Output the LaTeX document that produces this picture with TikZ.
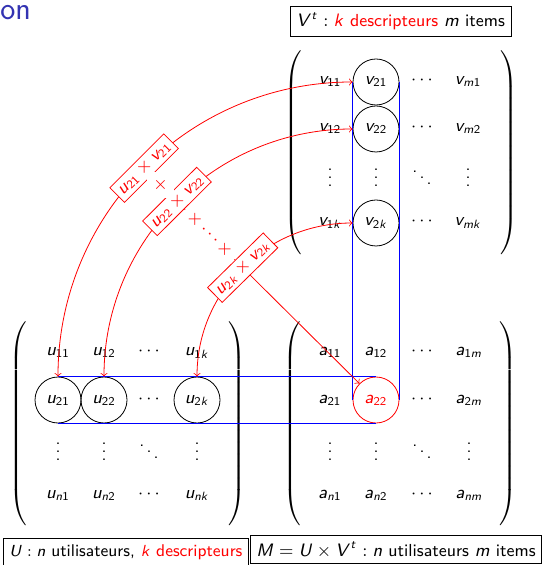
\documentclass[tikz,border=0pt]{standalone}
\usetikzlibrary{arrows}
\DeclareMathAlphabet{\mathsfit}{OT1}{cmss}{m}{sl}
\newcommand\mi[1]{\mathsfit{#1}}
\newcommand\ms[1]{\mathsf{#1}}
\newcommand\dfont{\fontsize{8.7}{10.4}\selectfont\sffamily}
\newcommand\bfont{\fontsize{8.5}{10.2}\selectfont\sffamily}
\newcommand\bigparL{$\delimitershortfall=0pt\delimiterfactor=1000\left(\vcenter{\hrule height 97pt width 0pt}\right.$}
\newcommand\bigparR{$\delimitershortfall=0pt\delimiterfactor=1000\left.\vcenter{\hrule height 97pt width 0pt}\right)$}
\definecolor{titleblue}{rgb}{0.2,0.2,0.7}
\tikzset{
  ent/.style={font=\dfont, text height=5pt, text depth=2pt, inner sep=0pt},
  cir/.style={ent, circle, draw, minimum size=23pt},
  lbl/.style={sloped, draw=red, fill=white, text=red, inner sep=2pt, font=\dfont},
  infobox/.style={draw, font=\dfont, inner sep=3pt, anchor=base west},
  parL/.style={inner sep=0pt, anchor=west},
  parR/.style={inner sep=0pt, anchor=east},
  band/.style={blue},
  link/.style={red},
}
\begin{document}
\begin{tikzpicture}[x=0.5pt,y=-0.5pt]
\useasboundingbox (0,0) rectangle (541,565);
% title fragment
\node[anchor=base west, inner sep=0pt, text=titleblue, font=\fontsize{16}{18}\selectfont\sffamily] (title) at (0,20) {on};
% info boxes
\node[infobox] (vinfo) at (290,27) {$\mi{V}^{\mi{t}} : \textcolor{red}{\mi{k}}$ \textcolor{red}{descripteurs} $\mi{m}$ items};
\node[infobox, font=\bfont] (uinfo) at (3,556) {$\mi{U} : \mi{n}$ utilisateurs, \textcolor{red}{$\mi{k}$ descripteurs}};
\node[infobox] (minfo) at (250,556) {$\mi{M}=\mi{U}\times\mi{V}^{\mi{t}} : \mi{n}$ utilisateurs $\mi{m}$ items};
% V^t matrix
\node[parL] (vl) at (284,152.5) {\bigparL};
\node[parR] (vr) at (518,152.5) {\bigparR};
\node[ent] (v11) at (330,82) {$\mi{v}_{\ms{11}}$};
\node[cir] (v21) at (376,82) {$\mi{v}_{\ms{21}}$};
\node[ent] (vd1) at (422,82) {$\cdots$};
\node[ent] (vm1) at (468,82) {$\mi{v}_{\mi{m}\ms{1}}$};
\node[ent] (v12) at (330,129) {$\mi{v}_{\ms{12}}$};
\node[cir] (v22) at (376,129) {$\mi{v}_{\ms{22}}$};
\node[ent] (vd2) at (422,129) {$\cdots$};
\node[ent] (vm2) at (468,129) {$\mi{v}_{\mi{m}\ms{2}}$};
\node[ent] (vv1) at (330,184) {$\vdots$};
\node[ent] (vv2) at (376,184) {$\vdots$};
\node[ent] (vdd) at (422,184) {$\ddots$};
\node[ent] (vv4) at (468,184) {$\vdots$};
\node[ent] (v1k) at (330,223) {$\mi{v}_{\ms{1}\mi{k}}$};
\node[cir] (v2k) at (376,223) {$\mi{v}_{\ms{2}\mi{k}}$};
\node[ent] (vdk) at (422,223) {$\cdots$};
\node[ent] (vmk) at (468,223) {$\mi{v}_{\mi{m}\mi{k}}$};
% U matrix
\node[parL] (ul) at (9,424) {\bigparL};
\node[parR] (ur) at (246,424) {\bigparR};
\node[ent] (u11) at (58,353) {$\mi{u}_{\ms{11}}$};
\node[ent] (u12) at (104,353) {$\mi{u}_{\ms{12}}$};
\node[ent] (ud1) at (149,353) {$\cdots$};
\node[ent] (u1k) at (197,353) {$\mi{u}_{\ms{1}\mi{k}}$};
\node[cir] (u21) at (58,400) {$\mi{u}_{\ms{21}}$};
\node[cir] (u22) at (104,400) {$\mi{u}_{\ms{22}}$};
\node[ent] (ud2) at (149,400) {$\cdots$};
\node[cir] (u2k) at (197,400) {$\mi{u}_{\ms{2}\mi{k}}$};
\node[ent] (uv1) at (58,457) {$\vdots$};
\node[ent] (uv2) at (104,457) {$\vdots$};
\node[ent] (udd) at (149,457) {$\ddots$};
\node[ent] (uv4) at (197,457) {$\vdots$};
\node[ent] (un1) at (58,495) {$\mi{u}_{\mi{n}\ms{1}}$};
\node[ent] (un2) at (104,495) {$\mi{u}_{\mi{n}\ms{2}}$};
\node[ent] (udn) at (149,495) {$\cdots$};
\node[ent] (unk) at (197,495) {$\mi{u}_{\mi{n}\mi{k}}$};
% M matrix
\node[parL] (ml) at (283,424) {\bigparL};
\node[parR] (mr) at (517,424) {\bigparR};
\node[ent] (a11) at (330,353) {$\mi{a}_{\ms{11}}$};
\node[ent] (a12) at (376,353) {$\mi{a}_{\ms{12}}$};
\node[ent] (ad1) at (422,353) {$\cdots$};
\node[ent] (a1m) at (469,353) {$\mi{a}_{\ms{1}\mi{m}}$};
\node[ent] (a21) at (330,400) {$\mi{a}_{\ms{21}}$};
\node[cir, draw=red, text=red] (a22) at (376,400) {$\mi{a}_{\ms{22}}$};
\node[ent] (ad2) at (422,400) {$\cdots$};
\node[ent] (a2m) at (469,400) {$\mi{a}_{\ms{2}\mi{m}}$};
\node[ent] (av1) at (330,457) {$\vdots$};
\node[ent] (av2) at (376,457) {$\vdots$};
\node[ent] (add) at (422,457) {$\ddots$};
\node[ent] (av4) at (469,457) {$\vdots$};
\node[ent] (an1) at (330,495) {$\mi{a}_{\mi{n}\ms{1}}$};
\node[ent] (an2) at (376,495) {$\mi{a}_{\mi{n}\ms{2}}$};
\node[ent] (adn) at (422,495) {$\cdots$};
\node[ent] (anm) at (469,495) {$\mi{a}_{\mi{n}\mi{m}}$};
% blue bands
\draw[band] (u21.north) -- (a22.north);
\draw[band] (u21.south) -- (a22.south);
\draw[band] (v21.west) -- (a22.west);
\draw[band] (v21.east) -- (a22.east);
% red links
\draw[link,<->] (u21.north) to[out=90,in=180] node[lbl] (b1) {$\mi{u}_{\ms{21}}\times\mi{v}_{\ms{21}}$} (v21.west);
\draw[link,<->] (u22.north) to[out=90,in=180] node[lbl] (b2) {$\mi{u}_{\ms{22}}\times\mi{v}_{\ms{22}}$} (v22.west);
\draw[link,<->] (u2k.north) to[out=90,in=180] node[lbl] (b3) {$\mi{u}_{\ms{2}\mi{k}}\times\mi{v}_{\ms{2}\mi{k}}$} (v2k.west);
\draw[link] (b1) -- node[fill=white, text=red, font=\dfont] (x1) {$\times$} (b2);
\draw[link] (b2) -- node[fill=white, text=red, font=\dfont, rotate=-45] (x2) {$\times\cdots\times$} (b3);
\draw[link,->] (b3) -- (a22);
\end{tikzpicture}
\end{document}
